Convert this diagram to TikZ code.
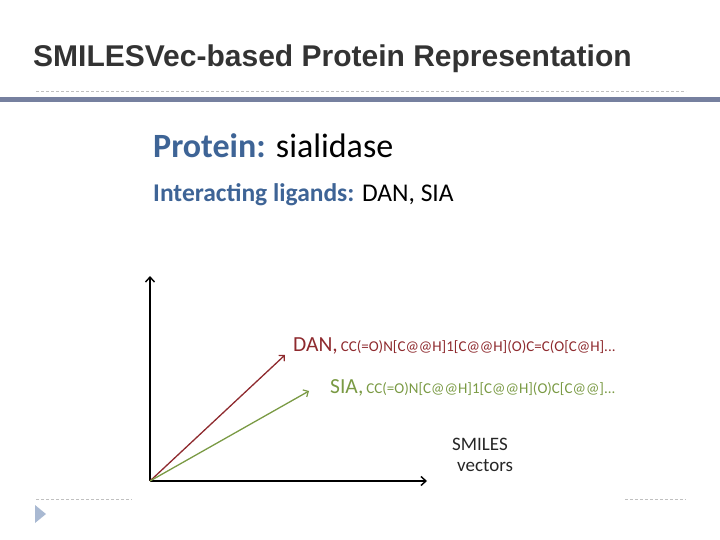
\documentclass[tikz,border=0pt]{standalone}
\usepackage{fontspec}
\setmainfont{Carlito}
\newfontfamily\titlefont{Liberation Sans}
\usetikzlibrary{arrows.meta}
\definecolor{titlegray}{HTML}{333333}
\definecolor{barcol}{HTML}{76809F}
\definecolor{dashcol}{HTML}{C0C0C0}
\definecolor{headblue}{HTML}{3E6496}
\definecolor{danred}{HTML}{8E2A2E}
\definecolor{siagreen}{HTML}{7A9A44}
\definecolor{tricol}{HTML}{A9B9D2}
\tikzset{
  px/.style={x=1pt,y=-1pt},
  dashrule/.style={draw=dashcol,line width=0.8pt,dash pattern=on 3pt off 2pt},
  axis/.style={draw=black,line width=1.6pt,-{Straight Barb[length=5pt,width=9pt,line width=1.4pt]}},
  vec/.style={line width=1.3pt,-{Straight Barb[length=4pt,width=8pt,line width=1.2pt]}},
  lbl/.style={inner sep=0pt,anchor=base west},
}
\begin{document}
\begin{tikzpicture}[px]
\useasboundingbox (0,0) rectangle (720,540);
% header
\node[lbl,text=titlegray,font=\titlefont\bfseries\fontsize{30}{36}\selectfont] (title) at (33,67) {SMILESVec-based Protein Representation};
\draw[dashrule] (36,91) -- (686,91);
\fill[barcol] (0,97) rectangle (720,102);
% footer
\draw[dashrule] (36,499) -- (132,499);
\draw[dashrule] (625,499) -- (686,499);
\fill[tricol] (35,505) -- (46,514) -- (35,523) -- cycle;
% headings
\node[lbl,font=\fontsize{34}{40}\selectfont] (prot) at (153,158) {\textcolor{headblue}{\bfseries Protein:} sialidase};
\node[lbl,font=\fontsize{25.5}{30}\selectfont] (lig) at (153,202) {\textcolor{headblue}{\bfseries Interacting ligands:} DAN, SIA};
% axes
\coordinate (o) at (150,481);
\coordinate (ytip) at (150,276);
\coordinate (xtip) at (427,481);
\draw[axis] (o) -- (ytip);
\draw[axis] (o) -- (xtip);
\coordinate (dantip) at (285,355);
\coordinate (siatip) at (309,391);
\draw[vec,danred] (o) -- (dantip);
\draw[vec,siagreen] (o) -- (siatip);
% labels
\node[lbl,text=danred] (dan) at (293,351) {{\fontsize{21.5}{25}\selectfont DAN,}\hspace{3pt}{\fontsize{15}{18}\selectfont CC(=O)N[C@@H]1[C@@H](O)C=C(O[C@H]...}};
\node[lbl,text=siagreen] (sia) at (330,393) {{\fontsize{21.5}{25}\selectfont SIA,}\hspace{3pt}{\fontsize{15}{18}\selectfont CC(=O)N[C@@H]1[C@@H](O)C[C@@]...}};
\node[lbl,text=black!85,font=\fontsize{19}{22}\selectfont] (sv1) at (452,450) {SMILES};
\node[lbl,text=black!85,font=\fontsize{19}{22}\selectfont] (sv2) at (457,471) {vectors};
\end{tikzpicture}
\end{document}
